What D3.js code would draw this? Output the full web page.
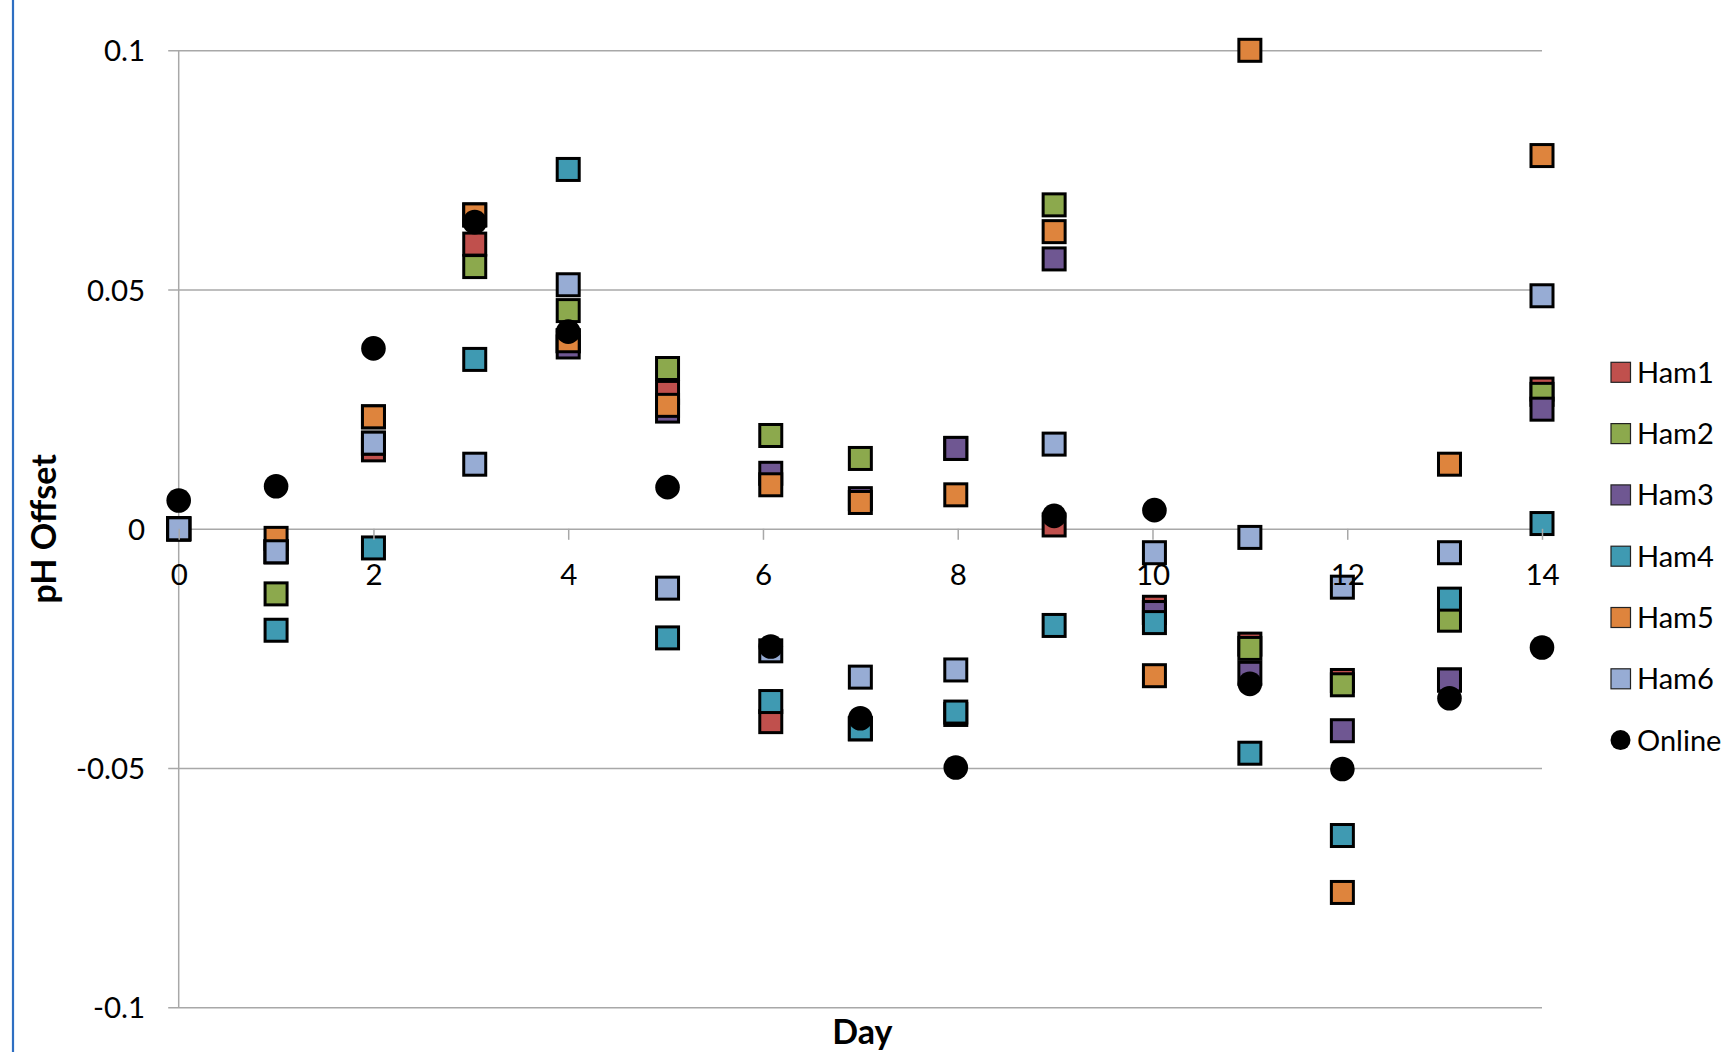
<!DOCTYPE html>
<html>
<head>
<meta charset="utf-8">
<script src="https://cdn.jsdelivr.net/npm/d3@7"></script>
<style>
  html, body { margin: 0; padding: 0; background: #fff; overflow: hidden; }
  svg { display: block; }
  text { font-family: Lato, "Open Sans", sans-serif; fill: #000; }
</style>
</head>
<body>
<svg id="chart" width="1723" height="1052"></svg>
<script>
// ---- data ----
const days = [0, 1, 2, 3.04, 4, 5.02, 6.08, 7, 7.98, 8.99, 10.02, 11, 11.95, 13.05, 14];
const seriesNames = ["Ham1", "Ham2", "Ham3", "Ham4", "Ham5", "Ham6", "Online"];
const ham1 = [0, -0.0048, 0.0165, 0.0595, 0.0393, 0.0285, -0.0403, -0.0418, -0.0388, 0.0008, -0.0164, -0.0241, -0.0317, -0.0316, 0.0292];
const ham2 = [0, -0.0136, 0.0179, 0.0548, 0.0456, 0.0335, 0.0195, 0.0147, 0.0168, 0.0677, -0.0175, -0.0250, -0.0326, -0.0191, 0.0281];
const ham3 = [0, -0.0048, 0.0234, 0.0656, 0.0380, 0.0246, 0.0116, 0.0063, 0.0168, 0.0564, -0.0175, -0.0302, -0.0422, -0.0316, 0.0250];
const ham4 = [0, -0.0212, -0.0040, 0.0354, 0.0751, -0.0228, -0.0361, -0.0418, -0.0383, -0.0202, -0.0196, -0.0469, -0.0641, -0.0147, 0.0011];
const ham5 = [0, -0.0020, 0.0234, 0.0656, 0.0393, 0.0258, 0.0092, 0.0055, 0.0071, 0.0621, -0.0307, 0.1000, -0.0760, 0.0135, 0.0780];
const ham6 = [0, -0.0048, 0.0179, 0.0135, 0.0510, -0.0124, -0.0255, -0.0310, -0.0295, 0.0177, -0.0050, -0.0018, -0.0122, -0.0050, 0.0487];
const online = [0.0059, 0.0089, 0.0377, 0.0641, 0.0412, 0.0087, -0.0246, -0.0396, -0.0499, 0.0027, 0.0039, -0.0324, -0.0502, -0.0354, -0.0248];
const xTicks = [0, 2, 4, 6, 8, 10, 12, 14];
const yTicks = [-0.1, -0.05, 0, 0.05, 0.1];
const yTickLabels = ["-0.1", "-0.05", "0", "0.05", "0.1"];

// ---- styles ----
const colors = ["#C0504D", "#8CA94D", "#6F5792", "#3F9AB2", "#DE843D", "#97ACD4", "#000000"];
const seriesValues = [ham1, ham2, ham3, ham4, ham5, ham6, online];

const svg = d3.select("#chart");
const pLeft = 178.7, pRight = 1542, pTop = 50.3, pBottom = 1007.3;
const x = d3.scaleLinear().domain([0, 14]).range([pLeft, pRight]);
const y = d3.scaleLinear().domain([-0.1, 0.1]).range([pBottom, pTop]);

// left blue border
svg.append("line").attr("x1", 13).attr("x2", 13).attr("y1", 0).attr("y2", 1052)
  .attr("stroke", "#2E6FC2").attr("stroke-width", 2.2);

const grid = "#A8A8A8";

// horizontal gridlines + left ticks via axis
const yAxis = d3.axisLeft(y).tickValues(yTicks).tickSize(0).tickPadding(0)
  .tickFormat(d => yTickLabels[yTicks.indexOf(d)]);
const gy = svg.append("g").attr("transform", `translate(${pLeft},0)`).call(yAxis);
gy.select(".domain").remove();
gy.selectAll(".tick line").remove();
gy.selectAll(".tick").append("line")
  .attr("x1", -10.5).attr("x2", pRight - pLeft)
  .attr("stroke", grid).attr("stroke-width", 1.5);
gy.selectAll(".tick text")
  .attr("x", -33.5).attr("dy", "0.36em")
  .style("font-size", "29.5px").style("text-anchor", "end").attr("fill", "#000");

// vertical axis line
svg.append("line").attr("x1", pLeft).attr("x2", pLeft).attr("y1", pTop).attr("y2", pBottom)
  .attr("stroke", grid).attr("stroke-width", 1.5);

// markers
const plot = svg.append("g");
seriesValues.forEach((vals, si) => {
  const pts = days.map((d, i) => ({ d, v: vals[i] }));
  if (seriesNames[si] === "Online") {
    plot.append("g").selectAll("circle").data(pts).join("circle")
      .attr("cx", p => x(p.d)).attr("cy", p => y(p.v)).attr("r", 12.3)
      .attr("fill", "#000");
  } else {
    plot.append("g").selectAll("rect").data(pts).join("rect")
      .attr("x", p => x(p.d) - 11).attr("y", p => y(p.v) - 11)
      .attr("width", 22).attr("height", 22)
      .attr("fill", colors[si]).attr("stroke", "#000").attr("stroke-width", 3);
  }
});

// x axis at y=0
const xAxis = d3.axisBottom(x).tickValues(xTicks).tickSize(11).tickFormat(d => String(d));
const gx = svg.append("g").attr("transform", `translate(0,${y(0)})`).call(xAxis);
gx.select(".domain").remove();
gx.selectAll(".tick line").attr("stroke", grid).attr("stroke-width", 1.5);
gx.selectAll(".tick text").attr("y", 46).attr("dy", "0.36em")
  .style("font-size", "29.5px").attr("fill", "#000");

// axis titles
svg.append("text").attr("transform", `translate(56,${(pTop + pBottom) / 2}) rotate(-90)`)
  .attr("text-anchor", "middle").style("font-size", "34px").style("font-weight", "bold")
  .text("pH Offset");
svg.append("text").attr("x", (pLeft + pRight) / 2 + 2).attr("y", 1044)
  .attr("text-anchor", "middle").style("font-size", "34px").style("font-weight", "bold")
  .text("Day");

// legend
const lg = svg.append("g");
seriesNames.forEach((name, i) => {
  const cy = 372.3 + i * 61.3;
  if (name === "Online") {
    lg.append("circle").attr("cx", 1620.5).attr("cy", cy).attr("r", 10).attr("fill", "#000");
  } else {
    lg.append("rect").attr("x", 1611).attr("y", cy - 10).attr("width", 19.5).attr("height", 20)
      .attr("fill", colors[i]).attr("stroke", "#222").attr("stroke-width", 1.2);
  }
  lg.append("text").attr("x", 1637).attr("y", cy).attr("dy", "0.36em")
    .style("font-size", "29px").text(name);
});
</script>
</body>
</html>
